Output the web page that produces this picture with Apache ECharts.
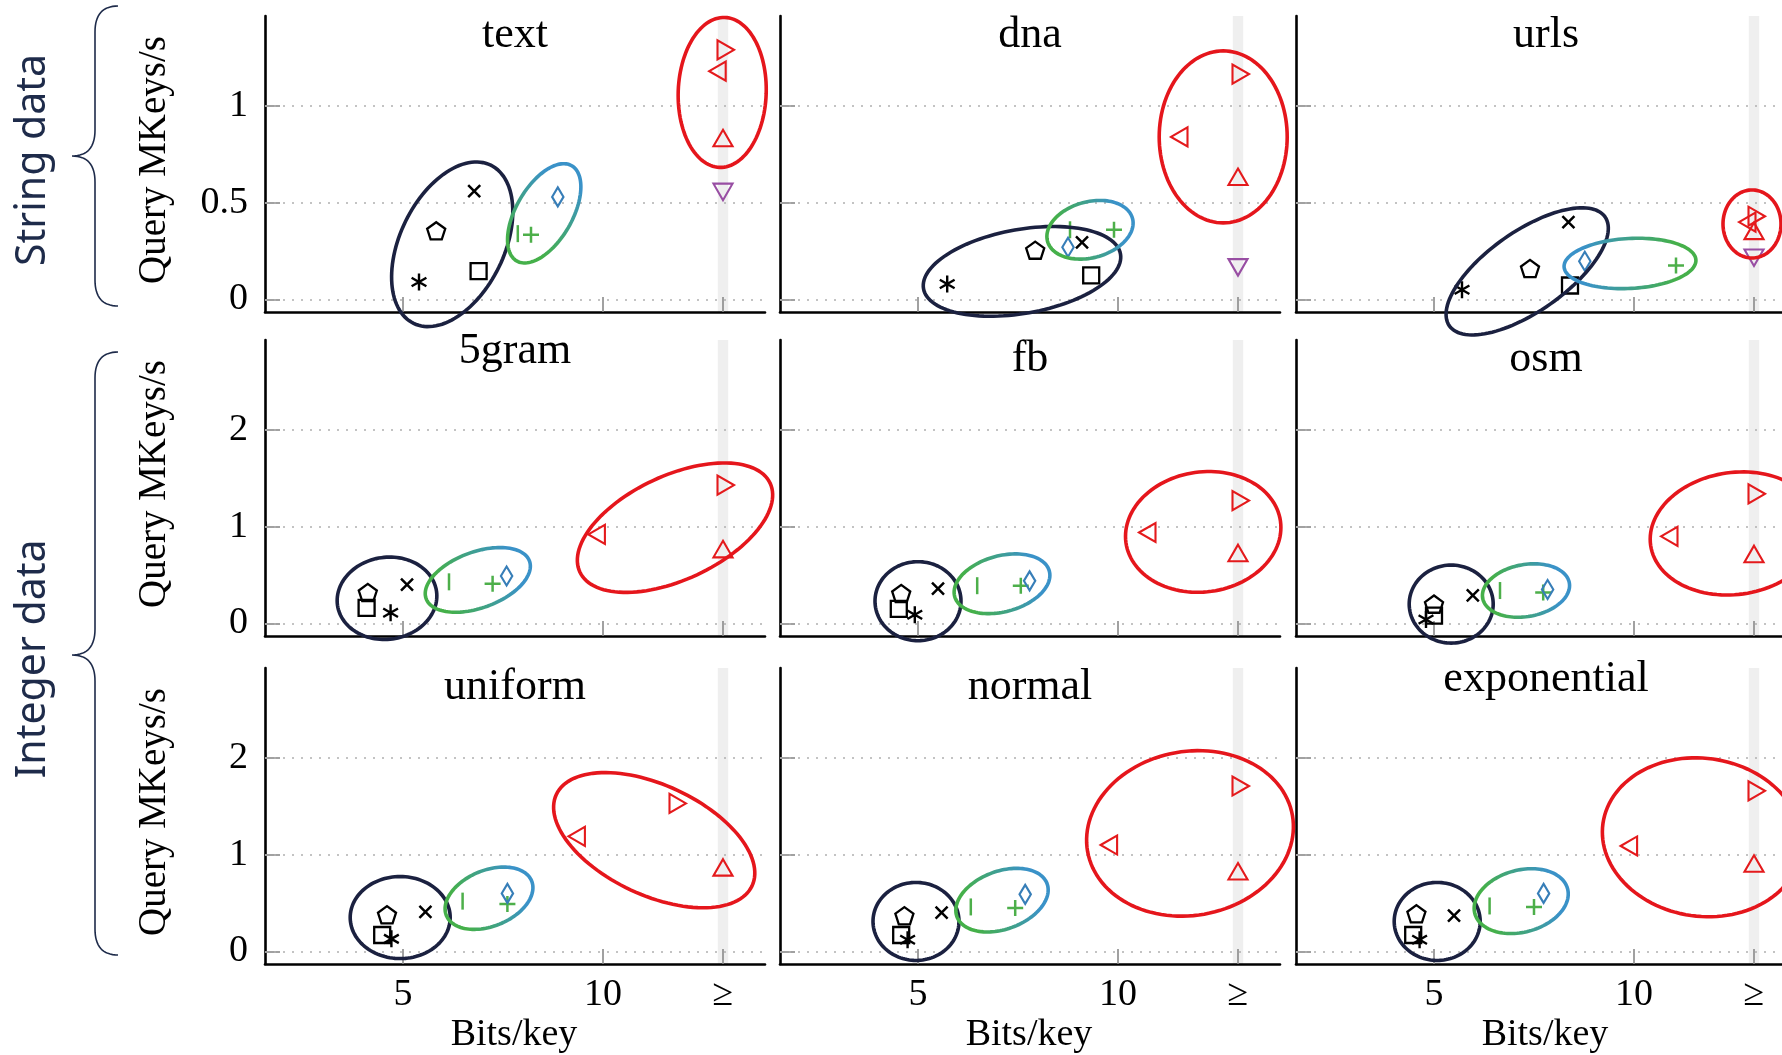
<!DOCTYPE html>
<html><head><meta charset="utf-8">
<script src="https://cdn.jsdelivr.net/npm/echarts@6/dist/echarts.min.js"></script>
<style>html,body{margin:0;padding:0;background:#fff}#c{width:1782px;height:1055px}</style>
</head><body><div id="c"></div>
<script>
// ---------- data ----------
const panels = ['text','dna','urls','5gram','fb','osm','uniform','normal','exponential'];
const groupLabels = ['String data','Integer data'];
const xTickValues = [5, 10, 13];          // 13 = the ">=" column
const xTickLabels = ['5', '10', '≥'];
const yTicksString = [0, 0.5, 1];
const yTicksInteger = [0, 1, 2];
const xAxisName = 'Bits/key';
const yAxisName = 'Query MKeys/s';

// one [bits/key, query MKeys/s] per panel, in the order of `panels`
const asterisk = [[5.40,0.09],[5.73,0.08],[5.70,0.05],[4.69,0.11],[4.92,0.09],[4.80,0.04],[4.71,0.13],[4.74,0.12],[4.64,0.12]];
const pentagon = [[5.83,0.35],[7.93,0.25],[7.40,0.155],[4.12,0.31],[4.58,0.30],[5.00,0.19],[4.60,0.37],[4.66,0.36],[4.56,0.38]];
const cross    = [[6.78,0.56],[9.10,0.295],[8.36,0.40],[5.10,0.40],[5.50,0.36],[5.97,0.29],[5.56,0.41],[5.59,0.40],[5.50,0.37]];
const square   = [[6.89,0.146],[9.33,0.124],[8.40,0.072],[4.09,0.16],[4.52,0.15],[5.00,0.08],[4.48,0.17],[4.58,0.17],[4.48,0.17]];
const bar      = [[7.87,0.34],[8.80,0.36],null,[6.15,0.43],[6.48,0.39],[6.65,0.34],[6.49,0.52],[6.32,0.46],[6.39,0.47]];
const plus     = [[8.20,0.334],[9.90,0.36],[11.05,0.176],[7.24,0.41],[7.57,0.39],[7.73,0.32],[7.61,0.49],[7.43,0.45],[7.50,0.46]];
const diamond  = [[8.87,0.53],[8.75,0.27],[8.77,0.197],[7.59,0.49],[7.79,0.44],[7.84,0.35],[7.61,0.60],[7.68,0.59],[7.74,0.60]];
const triRight = [[13,1.29],[13,1.165],[13,0.43],[13,1.43],[13,1.27],[13,1.34],[11.8,1.53],[13,1.71],[13,1.66]];
const triLeft  = [[12.93,1.18],[11.6,0.84],[12.9,0.40],[9.91,0.92],[10.8,0.94],[10.95,0.90],[9.41,1.19],[9.84,1.10],[9.94,1.09]];
const triUp    = [[13,0.82],[13,0.62],[13,0.34],[13,0.74],[13,0.70],[13,0.69],[13,0.84],[13,0.80],[13,0.88]];
const triDown  = [[13,0.57],[13,0.18],[13,0.23],null,null,null,null,null,null];

// cluster ellipses: panel index, centre (data units) ; then semi-axes (px), angle (deg), colour kind
const ellipseCenters = [
  [0,6.23,0.285],[0,8.53,0.445],[0,12.98,1.07],
  [1,7.60,0.145],[1,9.30,0.36],[1,12.63,0.84],
  [2,7.33,0.145],[2,9.90,0.186],[2,12.95,0.39],
  [3,4.60,0.26],[3,6.87,0.45],[3,11.80,0.99],
  [4,5.00,0.23],[4,7.10,0.41],[4,12.13,0.946],
  [5,5.43,0.20],[5,7.30,0.34],[5,12.52,0.93],
  [6,4.93,0.35],[6,7.15,0.55],[6,11.28,1.15],
  [7,4.95,0.31],[7,7.10,0.53],[7,11.80,1.22],
  [8,5.08,0.31],[8,7.18,0.52],[8,11.70,1.18]
];
const ellipseShapes = [ // a, b, angle, kind (0 dark, 1 green->blue, 2 blue->green, 3 red)
  [88,52,-64,0],[55,28,-60,1],[75,44,-88,3],
  [100,42,-10,0],[44,28,-15,1],[86,64,-90,3],
  [95,40,-35,0],[66,25,-3,2],[34,29,-90,3],
  [50,41,-8,0],[55,28,-20,1],[105,52,-25,3],
  [43,39.5,0,0],[49,28,-15,1],[78,60,-8,3],
  [42,39,0,0],[44,26,-10,1],[85,61,-8,3],
  [50,41,0,0],[46,28,-22,1],[108,55,25,3],
  [43,39,0,0],[48,29,-20,1],[104,82,-10,3],
  [43,39,0,0],[48,31,-15,1],[100,79,8,3]
];

// ---------- layout / style ----------
const COL_X = [265, 780, 1296], ROW_Y = [16, 340, 668], GW = 500, GH = 296;
const X_MIN = 1.55, X_MAX = 14.05;
const Y_RANGE = [[-0.065, 1.465], [-0.13, 2.93], [-0.13, 2.93]];
const SERIF = '"Liberation Serif", "Times New Roman", serif';
const NAVY = '#1e2b4a';
const C_BLACK = '#000000', C_GREEN = '#4daf4a', C_BLUE = '#377eb8', C_RED = '#e41a1c', C_PURPLE = '#984ea3';
const B = 'M-1,-1M1,1';
const markerDefs = [
  {data: asterisk, path: B+'M0,-1L0,1M-0.87,-0.5L0.87,0.5M-0.87,0.5L0.87,-0.5', size: 17, color: C_BLACK, lw: 2.4},
  {data: pentagon, path: B+'M0,-1L0.951,-0.309L0.588,0.809L-0.588,0.809L-0.951,-0.309Z', size: 19, color: C_BLACK, lw: 2.3},
  {data: cross,    path: B+'M-0.75,-0.75L0.75,0.75M-0.75,0.75L0.75,-0.75', size: 16, color: C_BLACK, lw: 2.5},
  {data: square,   path: B+'M-0.8,-0.8L0.8,-0.8L0.8,0.8L-0.8,0.8Z', size: 20, color: C_BLACK, lw: 2.3},
  {data: bar,      path: B+'M0,-1L0,1', size: 17, color: C_GREEN, lw: 2.5},
  {data: plus,     path: B+'M0,-1L0,1M-1,0L1,0', size: 16, color: C_GREEN, lw: 2.5},
  {data: diamond,  path: B+'M0,-1L0.6,0L0,1L-0.6,0Z', size: 19, color: C_BLUE, lw: 2.1},
  {data: triRight, path: B+'M1,0L-0.5,0.866L-0.5,-0.866Z', size: 22, color: C_RED, lw: 2.1},
  {data: triLeft,  path: B+'M-1,0L0.5,-0.866L0.5,0.866Z', size: 22, color: C_RED, lw: 2.1},
  {data: triUp,    path: B+'M0,-1L0.866,0.5L-0.866,0.5Z', size: 22, color: C_RED, lw: 2.1},
  {data: triDown,  path: B+'M0,1L-0.866,-0.5L0.866,-0.5Z', size: 22, color: C_PURPLE, lw: 2.1}
];

const chart = echarts.init(document.getElementById('c'), null, {renderer: 'canvas', width: 1782, height: 1055});

const grids = [], xAxes = [], yAxes = [], series = [], graphics = [];

panels.forEach((name, p) => {
  const r = Math.floor(p / 3), c = p % 3;
  const yTicks = r === 0 ? yTicksString : yTicksInteger;
  grids.push({left: COL_X[c], top: ROW_Y[r], width: GW, height: GH, outerBoundsMode: 'none', containLabel: false});
  xAxes.push({
    type: 'value', gridIndex: p, min: X_MIN, max: X_MAX,
    axisLine: {show: true, onZero: false, lineStyle: {color: '#000', width: 2.6}},
    axisTick: {show: true, inside: true, length: 15, customValues: xTickValues, lineStyle: {color: '#8a8a8a', width: 1.6}},
    axisLabel: {show: r === 2, customValues: xTickValues, margin: 12,
      formatter: v => { const i = xTickValues.indexOf(v); return i >= 0 ? xTickLabels[i] : ''; },
      fontFamily: SERIF, fontSize: 38, color: '#000'},
    splitLine: {show: false}
  });
  yAxes.push({
    type: 'value', gridIndex: p, min: Y_RANGE[r][0], max: Y_RANGE[r][1],
    axisLine: {show: true, onZero: false, lineStyle: {color: '#000', width: 2.6}},
    axisTick: {show: true, inside: true, length: 15, customValues: yTicks, lineStyle: {color: '#8a8a8a', width: 1.6}},
    axisLabel: {show: c === 0, customValues: yTicks, margin: 17, formatter: v => String(v),
      fontFamily: SERIF, fontSize: 38, color: '#000'},
    splitLine: {show: false}
  });
  // frame: dotted grid lines and the grey ">=" band
  series.push({
    type: 'scatter', xAxisIndex: p, yAxisIndex: p, data: [], silent: true, z: 1,
    markLine: {silent: true, symbol: ['none', 'none'], label: {show: false}, z: 1,
      lineStyle: {type: [2, 7], color: '#b0b0b0', width: 1.5},
      emphasis: {disabled: true},
      data: yTicks.map(v => ({yAxis: v}))},
    markArea: {silent: true, itemStyle: {color: '#efefef'}, z: 0,
      data: [[{xAxis: xTickValues[2] - 0.13}, {xAxis: xTickValues[2] + 0.13}]]}
  });
  // markers
  markerDefs.forEach(m => {
    const v = m.data[p];
    if (!v) return;
    series.push({
      type: 'scatter', xAxisIndex: p, yAxisIndex: p, data: [v], silent: true, z: 3,
      symbol: 'path://' + m.path, symbolSize: m.size, symbolKeepAspect: true,
      itemStyle: {color: 'transparent', borderColor: m.color, borderWidth: m.lw, opacity: 1},
      emphasis: {disabled: true}
    });
  });
  // ellipses
  const eData = [];
  ellipseCenters.forEach((e, i) => { if (e[0] === p) eData.push([e[1], e[2]].concat(ellipseShapes[i])); });
  series.push({
    type: 'custom', xAxisIndex: p, yAxisIndex: p, data: eData, silent: true, clip: false, z: 4,
    encode: {x: 0, y: 1},
    renderItem: (params, api) => {
      const ctr = api.coord([api.value(0), api.value(1)]);
      const a = api.value(2), b = api.value(3), ang = api.value(4) * Math.PI / 180, kind = api.value(5);
      const ca = Math.cos(ang), sa = Math.sin(ang);
      const pts = [];
      for (let i = 0; i < 120; i++) {
        const t = i / 120 * 2 * Math.PI, x = a * Math.cos(t), y = b * Math.sin(t);
        pts.push([ctr[0] + x * ca - y * sa, ctr[1] + x * sa + y * ca]);
      }
      let stroke;
      if (kind === 0) stroke = '#1b2140';
      else if (kind === 3) stroke = '#e5161c';
      else {
        const s = kind === 1 ? 1 : -1;
        stroke = new echarts.graphic.LinearGradient(
          ctr[0] - s * a * ca, ctr[1] - s * a * sa, ctr[0] + s * a * ca, ctr[1] + s * a * sa,
          [{offset: 0.15, color: '#45b04a'}, {offset: 0.85, color: '#3a92c8'}], true);
      }
      return {type: 'polygon', shape: {points: pts}, style: {fill: 'none', stroke: stroke, lineWidth: 3.6}};
    }
  });
  // panel title (texts with descenders sit higher, as in the original)
  graphics.push({type: 'text', x: COL_X[c] + GW / 2, y: ROW_Y[r] + (/[gpqyj]/.test(name) ? 11 : 19), silent: true,
    style: {text: name, fill: '#000', font: '44px ' + SERIF, align: 'center', verticalAlign: 'middle'}});
  if (c === 0) graphics.push({type: 'text', x: 155, y: ROW_Y[r] + GH / 2 - 4, rotation: Math.PI / 2, silent: true,
    style: {text: yAxisName, fill: '#000', font: '39px ' + SERIF, align: 'center', verticalAlign: 'middle'}});
  if (r === 2) graphics.push({type: 'text', x: COL_X[c] + GW / 2 - 1, y: 1035, silent: true,
    style: {text: xAxisName, fill: '#000', font: '38px ' + SERIF, align: 'center', verticalAlign: 'middle'}});
});

// group braces and labels
function bracePoints(xE, xV, xT, yTop, yTip, yBot, rr) {
  const pts = [];
  const q = (p0, p1, p2) => { for (let i = 0; i <= 16; i++) { const t = i / 16, u = 1 - t;
    pts.push([u*u*p0[0] + 2*u*t*p1[0] + t*t*p2[0], u*u*p0[1] + 2*u*t*p1[1] + t*t*p2[1]]); } };
  q([xE, yTop], [xV, yTop], [xV, yTop + rr]);
  q([xV, yTip - rr], [xV, yTip], [xT, yTip]);
  q([xT, yTip], [xV, yTip], [xV, yTip + rr]);
  q([xV, yBot - rr], [xV, yBot], [xE, yBot]);
  return pts;
}
const braces = [[6, 156, 306], [352, 655, 955]];
braces.forEach((bb, i) => {
  graphics.push({type: 'polyline', silent: true, shape: {points: bracePoints(118, 95, 72, bb[0], bb[1], bb[2], 26)},
    style: {fill: null, stroke: NAVY, lineWidth: 1.6}});
  graphics.push({type: 'text', x: 33, y: bb[1] + 4, rotation: Math.PI / 2, silent: true,
    style: {text: groupLabels[i], fill: NAVY, font: '41px "Noto Sans", "Open Sans", sans-serif', align: 'center', verticalAlign: 'middle'}});
});

chart.setOption({
  animation: false,
  backgroundColor: '#ffffff',
  grid: grids, xAxis: xAxes, yAxis: yAxes, series: series,
  graphic: {elements: graphics}
});
</script>
</body></html>
